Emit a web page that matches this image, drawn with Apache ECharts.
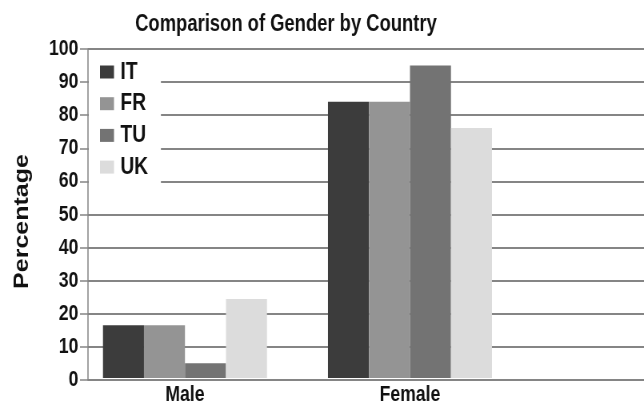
<!DOCTYPE html>
<html>
<head>
<meta charset="utf-8">
<script src="https://cdn.jsdelivr.net/npm/echarts@6/dist/echarts.min.js"></script>
<style>
html,body{margin:0;padding:0;background:#fff;overflow:hidden;}
#wrap{width:644px;height:406px;overflow:hidden;position:relative;}
#chart{width:805px;height:406px;transform:scaleX(0.8);transform-origin:0 0;}
</style>
</head>
<body>
<div id="wrap"><div id="chart"></div></div>
<script>
var categories = ['Male', 'Female'];
var countries = ['IT', 'FR', 'TU', 'UK'];
var valuesIT = [16, 84];
var valuesFR = [16, 84];
var valuesTU = [4.5, 95];
var valuesUK = [24, 76];
var colors = ['#3c3c3c', '#949494', '#737373', '#dcdcdc'];
var yTicks = [0, 10, 20, 30, 40, 50, 60, 70, 80, 90, 100];

var FONT = "'Liberation Sans', Arial, sans-serif";
var TEXT = '#111111';
var gridLine = '#858585';

var chart = echarts.init(document.getElementById('chart'), null, {renderer: 'canvas'});
var seriesData = [valuesIT, valuesFR, valuesTU, valuesUK];
var series = countries.map(function (name, i) {
  return {
    name: name,
    type: 'bar',
    xAxisIndex: 1,
    yAxisIndex: 1,
    data: seriesData[i],
    barWidth: 51.25,
    barGap: '0%',
    itemStyle: {color: colors[i]},
    z: 3
  };
});

chart.setOption({
  animation: false,
  color: colors,
  title: {
    text: 'Comparison of Gender by Country',
    left: 352.5,
    textAlign: 'center',
    top: 8,
    textStyle: {fontFamily: FONT, fontWeight: 'bold', fontSize: 23, color: TEXT}
  },
  legend: {
    data: countries,
    orient: 'vertical',
    left: 111,
    top: 54,
    icon: 'rect',
    itemWidth: 17.5,
    itemHeight: 13,
    itemGap: 7.7,
    backgroundColor: '#ffffff',
    padding: [6, 16, 18, 14],
    textStyle: {fontFamily: FONT, fontWeight: 'bold', fontSize: 24, color: TEXT, padding: [0, 0, 0, 3]},
    z: 10
  },
  grid: [
    {left: 110, right: -6, top: 49, bottom: 26},
    {left: 90.6, width: 562.5, top: 49, bottom: 26}
  ],
  xAxis: [
    {
      type: 'category', gridIndex: 0, data: categories,
      axisLine: {lineStyle: {color: gridLine, width: 1.5}},
      axisTick: {show: false},
      axisLabel: {show: false}
    },
    {
      type: 'category', gridIndex: 1, data: categories,
      axisLine: {show: false},
      axisTick: {show: false},
      axisLabel: {margin: 6, fontFamily: FONT, fontWeight: 'bold', fontSize: 22, color: TEXT}
    }
  ],
  yAxis: [
    {
      type: 'value', gridIndex: 0, min: yTicks[0], max: yTicks[yTicks.length - 1], interval: 10,
      name: 'Percentage',
      nameLocation: 'middle',
      nameGap: 69,
      nameTextStyle: {fontFamily: FONT, fontWeight: 'bold', fontSize: 25, color: TEXT, padding: [0, 14, 0, 0]},
      axisLine: {show: true, lineStyle: {color: gridLine, width: 1.5}},
      axisTick: {show: true, length: 10, lineStyle: {color: gridLine, width: 1.5}},
      axisLabel: {margin: 12, fontFamily: FONT, fontWeight: 'bold', fontSize: 22, color: TEXT},
      splitLine: {show: true, lineStyle: {color: gridLine, width: 2}}
    },
    {
      type: 'value', gridIndex: 1, min: yTicks[0], max: yTicks[yTicks.length - 1], interval: 10,
      show: false
    }
  ],
  series: series
});
</script>
</body>
</html>
